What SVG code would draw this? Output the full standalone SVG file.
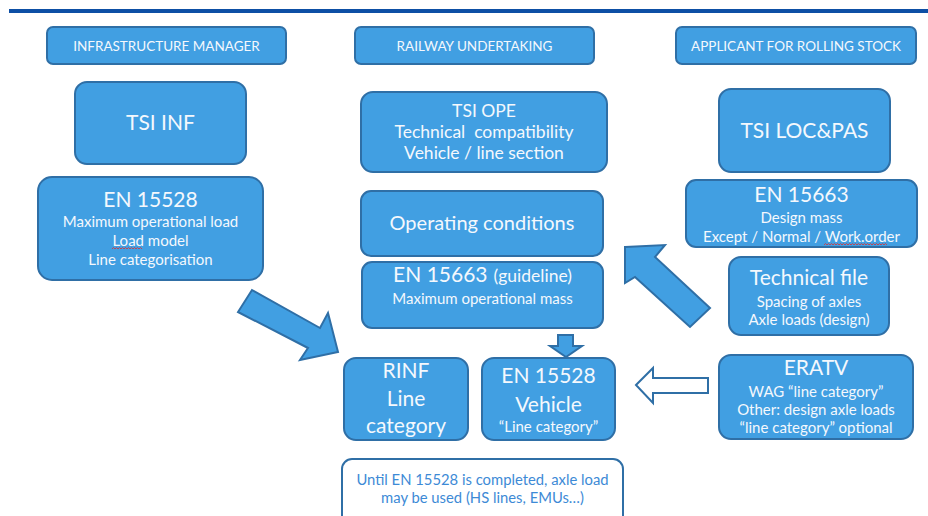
<svg xmlns="http://www.w3.org/2000/svg" width="928" height="516" viewBox="0 0 928 516">
<defs>
<style>
.box{fill:#419fe2;stroke:#2f6fa6;stroke-width:2}
.note{fill:#ffffff;stroke:#2f6fa6;stroke-width:2}
.arr{fill:#419fe2;stroke:#2f6fa6;stroke-width:2;stroke-linejoin:miter}
.harr{fill:#ffffff;stroke:#2f6fa6;stroke-width:2}
text{font-family:Lato,"Open Sans","Liberation Sans",sans-serif;fill:#f4f8fd;text-anchor:middle}
.h{font-size:13.5px}
.t{font-size:21px}
.s{font-size:15px}
.m{font-size:17.5px}
.n{font-size:14.8px;fill:#3d8ad6}
.sq{fill:none;stroke:#e03030;stroke-width:0.8}
</style>
</defs>
<rect x="9" y="9" width="919" height="4" fill="#0d4fa5"/>

<g id="hdr-im"><rect class="box" x="47" y="27" width="239" height="37" rx="6"/><text class="h" x="166.5" y="51">INFRASTRUCTURE MANAGER</text></g>
<g id="hdr-ru"><rect class="box" x="355" y="27" width="239" height="37" rx="6"/><text class="h" x="474.5" y="51">RAILWAY UNDERTAKING</text></g>
<g id="hdr-ap"><rect class="box" x="676" y="27" width="240" height="37" rx="6"/><text class="h" x="796" y="51">APPLICANT FOR ROLLING STOCK</text></g>

<g id="tsi-inf"><rect class="box" x="75" y="82" width="171" height="82" rx="12"/><text class="t" x="160.5" y="130">TSI INF</text></g>
<g id="en15528-l"><rect class="box" x="38" y="177" width="225" height="103" rx="14"/>
<text class="t" x="150.5" y="207">EN 15528</text>
<text class="s" x="150.5" y="227">Maximum operational load</text>
<text class="s" x="150.5" y="246">Load model</text>
<text class="s" x="150.5" y="265">Line categorisation</text>
<path class="sq" d="M112 249 l1.5 -1.5 l1.5 1.5 l1.5 -1.5 l1.5 1.5 l1.5 -1.5 l1.5 1.5 l1.5 -1.5 l1.5 1.5 l1.5 -1.5 l1.5 1.5 l1.5 -1.5 l1.5 1.5 l1.5 -1.5 l1.5 1.5 l1.5 -1.5 l1.5 1.5 l1.5 -1.5 l1.5 1.5 l1.5 -1.5 l1.5 1.5"/>
</g>

<g id="tsi-ope"><rect class="box" x="361" y="92" width="246" height="80" rx="12"/>
<text class="m" x="484" y="117">TSI OPE</text>
<text class="m" x="484" y="138" xml:space="preserve">Technical  compatibility</text>
<text class="m" x="484" y="159">Vehicle / line section</text></g>
<g id="op-cond"><rect class="box" x="361" y="191" width="242" height="65" rx="10"/><text class="t" x="482" y="230" style="font-size:20px">Operating conditions</text></g>
<g id="en15663-g"><rect class="box" x="362" y="262" width="241" height="66" rx="10"/>
<text x="482.5" y="282"><tspan class="t">EN 15663</tspan><tspan class="m" dx="6">(guideline)</tspan></text>
<text class="s" x="482.5" y="304">Maximum operational mass</text></g>

<g id="tsi-loc"><rect class="box" x="719" y="89" width="171" height="83" rx="12"/><text class="t" x="804.5" y="138">TSI LOC&amp;PAS</text></g>
<g id="en15663-r"><rect class="box" x="686" y="180" width="231" height="67" rx="10"/>
<text class="t" x="801.5" y="202">EN 15663</text>
<text class="s" x="801.5" y="223">Design mass</text>
<text class="s" x="801.5" y="242">Except / Normal / Work.order</text>
<path class="sq" d="M824 245 l1.5 -1.5 l1.5 1.5 l1.5 -1.5 l1.5 1.5 l1.5 -1.5 l1.5 1.5 l1.5 -1.5 l1.5 1.5 l1.5 -1.5 l1.5 1.5 l1.5 -1.5 l1.5 1.5 l1.5 -1.5 l1.5 1.5 l1.5 -1.5 l1.5 1.5 l1.5 -1.5 l1.5 1.5 l1.5 -1.5 l1.5 1.5 l1.5 -1.5 l1.5 1.5 l1.5 -1.5 l1.5 1.5 l1.5 -1.5 l1.5 1.5 l1.5 -1.5 l1.5 1.5 l1.5 -1.5 l1.5 1.5 l1.5 -1.5 l1.5 1.5 l1.5 -1.5 l1.5 1.5 l1.5 -1.5 l1.5 1.5 l1.5 -1.5 l1.5 1.5 l1.5 -1.5 l1.5 1.5 l1.5 -1.5 l1.5 1.5"/>
</g>
<g id="tech-file"><rect class="box" x="729" y="257" width="160" height="78" rx="12"/>
<text class="t" x="809" y="285">Technical file</text>
<text class="s" x="809" y="307">Spacing of axles</text>
<text class="s" x="809" y="325">Axle loads (design)</text></g>

<g id="rinf"><rect class="box" x="344" y="358" width="124" height="82" rx="12"/>
<text class="t" x="406" y="378">RINF</text>
<text class="t" x="406" y="406">Line</text>
<text class="t" x="406" y="433">category</text></g>
<g id="en15528-v"><rect class="box" x="482" y="358" width="133" height="82" rx="12"/>
<text class="t" x="548.5" y="383">EN 15528</text>
<text class="t" x="548.5" y="412">Vehicle</text>
<text class="s" x="548.5" y="432">“Line category”</text></g>
<g id="eratv"><rect class="box" x="719" y="355" width="194" height="84" rx="12"/>
<text class="t" x="816" y="375">ERATV</text>
<text class="s" x="816" y="397">WAG “line category”</text>
<text class="s" x="816" y="415">Other: design axle loads</text>
<text class="s" x="816" y="433">“line category” optional</text></g>

<g id="note"><rect class="note" x="342" y="459" width="281" height="70" rx="10"/>
<text class="n" x="482.5" y="485">Until EN 15528 is completed, axle load</text>
<text class="n" x="482.5" y="503">may be used (HS lines, EMUs…)</text></g>

<g id="connectors">
<polygon class="arr" points="252,290 320,328 328,313 338,352 300,360 308,348 238,312"/>
<polygon class="arr" points="625,247 665,245 655,257 710,308 690,327 635,277 625,283"/>
<polygon class="arr" points="558,335 573,335 573,346 582,346 566,357 550,346 558,346"/>
<polygon class="harr" points="636,385 653,368 653,378 708,378 708,393 653,393 653,403"/>
</g>
</svg>
